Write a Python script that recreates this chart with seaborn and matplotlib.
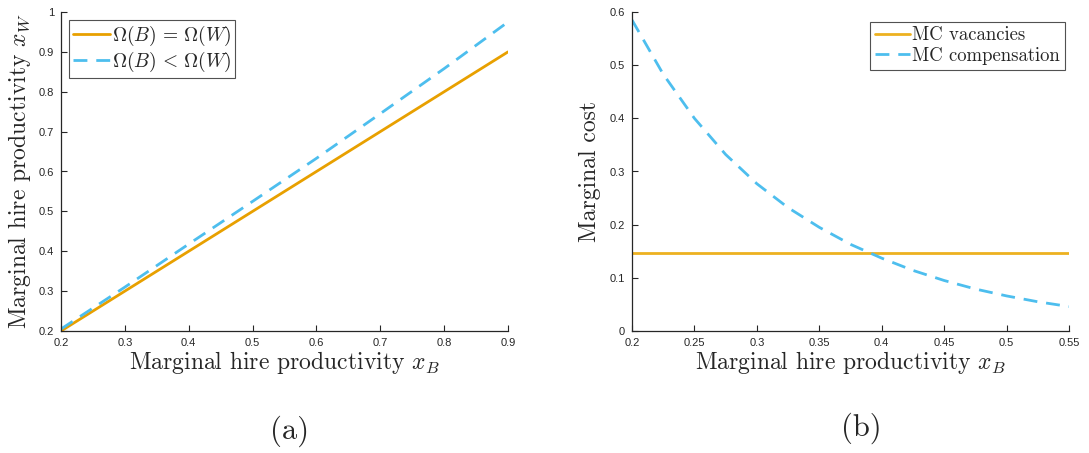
import numpy as np
import pandas as pd
import matplotlib
matplotlib.use("Agg")
import matplotlib.pyplot as plt
from matplotlib.ticker import FuncFormatter
import seaborn as sns

# ---- data (panel a) ----
xb_a = [0.2, 0.3, 0.4, 0.5, 0.6, 0.7, 0.8, 0.9]
xw_equal = [0.2, 0.3, 0.4, 0.5, 0.6, 0.7, 0.8, 0.9]
xw_less = [0.205, 0.31, 0.418, 0.525, 0.633, 0.745, 0.858, 0.975]

# ---- data (panel b) ----
xb_b = [0.2, 0.225, 0.25, 0.275, 0.3, 0.325, 0.35, 0.375, 0.4, 0.425,
        0.45, 0.475, 0.5, 0.525, 0.55]
mc_vacancies = [0.146] * 15
mc_compensation = [0.585, 0.483, 0.400, 0.332, 0.277, 0.232, 0.195, 0.163,
                   0.137, 0.114, 0.095, 0.079, 0.066, 0.055, 0.046]

xticks_a = [0.2, 0.3, 0.4, 0.5, 0.6, 0.7, 0.8, 0.9]
yticks_a = [0.2, 0.3, 0.4, 0.5, 0.6, 0.7, 0.8, 0.9, 1.0]
xticks_b = [0.2, 0.25, 0.3, 0.35, 0.4, 0.45, 0.5, 0.55]
yticks_b = [0, 0.1, 0.2, 0.3, 0.4, 0.5, 0.6]

sns.set_theme(style="ticks")
plt.rcParams["font.family"] = ["Liberation Sans", "DejaVu Sans"]
plt.rcParams["mathtext.fontset"] = "cm"

SERIF = "cmr10"
AXC = "#262626"
ORANGE_A = "#E8A000"
ORANGE_B = "#EDB120"
BLUE = "#4DBEEE"
DASH = (0, (5, 3.2))

fig = plt.figure(figsize=(10.89, 4.53), dpi=100)
ax1 = fig.add_axes([61 / 1089, 122 / 453, 447 / 1089, 319 / 453])
ax2 = fig.add_axes([632 / 1089, 122 / 453, 437 / 1089, 319 / 453])

dfa = pd.DataFrame({"x": xb_a, "eq": xw_equal, "lt": xw_less})
sns.lineplot(data=dfa, x="x", y="eq", ax=ax1, color=ORANGE_A, lw=2.0,
             label=r"$\Omega(B)\,=\,\Omega(W)$")
sns.lineplot(data=dfa, x="x", y="lt", ax=ax1, color=BLUE, lw=2.0,
             linestyle=DASH, label=r"$\Omega(B)\,<\,\Omega(W)$")

dfb = pd.DataFrame({"x": xb_b, "vac": mc_vacancies, "comp": mc_compensation})
sns.lineplot(data=dfb, x="x", y="vac", ax=ax2, color=ORANGE_B, lw=2.0,
             label="MC vacancies")
sns.lineplot(data=dfb, x="x", y="comp", ax=ax2, color=BLUE, lw=2.0,
             linestyle=DASH, label="MC compensation")

fmt = FuncFormatter(lambda v, p: ("%g" % round(v, 4)))

for ax, xt, yt, xl, yl in [(ax1, xticks_a, yticks_a, (0.2, 0.9), (0.2, 1.0)),
                           (ax2, xticks_b, yticks_b, (0.2, 0.55), (0, 0.6))]:
    ax.set_xlim(*xl)
    ax.set_ylim(*yl)
    ax.set_xticks(xt)
    ax.set_yticks(yt)
    ax.xaxis.set_major_formatter(fmt)
    ax.yaxis.set_major_formatter(fmt)
    ax.tick_params(direction="in", length=4, width=0.8, colors=AXC,
                   labelsize=8)
    ax.tick_params(axis="x", pad=5)
    ax.tick_params(axis="y", pad=5)
    for s in ["top", "right"]:
        ax.spines[s].set_visible(False)
    for s in ["left", "bottom"]:
        ax.spines[s].set_color(AXC)
        ax.spines[s].set_linewidth(0.9)
    ax.set_xlabel(r"Marginal hire productivity $x_B$", fontfamily=SERIF,
                  fontsize=17, color=AXC, labelpad=1)

ax1.set_ylabel(r"Marginal hire productivity $x_W$", fontfamily=SERIF,
               fontsize=17, color=AXC, labelpad=4)
ax2.set_ylabel("Marginal cost", fontfamily=SERIF, fontsize=17, color=AXC,
               labelpad=6)

leg1 = ax1.legend(loc="upper left", bbox_to_anchor=(0.018, 0.975),
                  prop={"family": SERIF, "size": 14}, frameon=True,
                  fancybox=False, edgecolor=AXC, handlelength=1.9,
                  handletextpad=0.1, borderpad=0.2, labelspacing=0.1,
                  borderaxespad=0)
leg1.get_frame().set_linewidth(0.8)
leg2 = ax2.legend(loc="upper right", bbox_to_anchor=(0.99, 0.97),
                  prop={"family": SERIF, "size": 13.5}, frameon=True,
                  fancybox=False, edgecolor=AXC, handlelength=1.9,
                  handletextpad=0.1, borderpad=0.25, labelspacing=0.15,
                  borderaxespad=0)
leg2.get_frame().set_linewidth(0.8)

fig.text(290 / 1089, 1 - 431 / 453, "(a)", fontfamily=SERIF, fontsize=22,
         ha="center", va="center", color=AXC)
fig.text(861 / 1089, 1 - 428 / 453, "(b)", fontfamily=SERIF, fontsize=22,
         ha="center", va="center", color=AXC)

fig.savefig("out.png", dpi=100, facecolor="white")
